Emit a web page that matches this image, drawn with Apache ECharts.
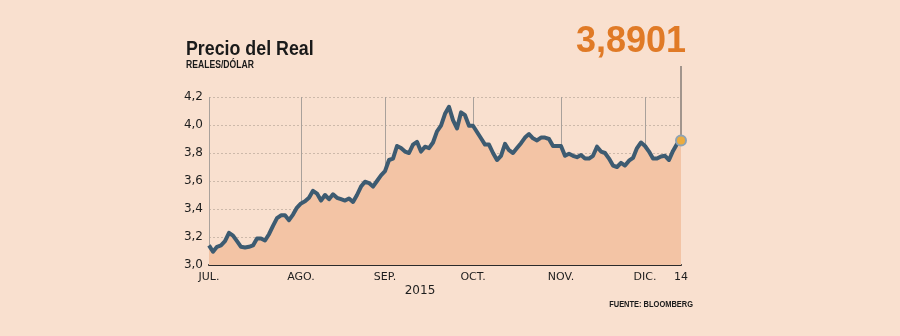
<!DOCTYPE html>
<html>
<head>
<meta charset="utf-8">
<script src="https://cdn.jsdelivr.net/npm/echarts@6/dist/echarts.min.js"></script>
<style>
html,body{margin:0;padding:0;background:#f9e0cf;}
#c{width:900px;height:336px;}
</style>
</head>
<body>
<div id="c"></div>
<script>
// Tasa BRL por USD, días hábiles 1 jul - 14 dic 2015
const values = [
  3.14,3.095,3.13,3.14,3.17,3.23,3.21,3.17,3.13,3.125,3.13,3.14,3.19,3.19,3.175,3.22,3.28,3.335,3.355,3.355,
  3.32,3.36,3.41,3.44,3.455,3.48,3.53,3.51,3.46,3.50,3.47,3.505,3.48,3.47,3.46,3.475,3.45,3.50,3.56,3.595,
  3.585,3.56,3.60,3.64,3.67,3.75,3.76,3.85,3.835,3.81,3.80,3.86,3.88,3.81,3.845,3.835,3.875,3.955,3.995,4.08,
  4.13,4.035,3.975,4.09,4.07,3.995,3.995,3.95,3.905,3.86,3.86,3.80,3.75,3.78,3.865,3.82,3.80,3.835,3.87,3.91,
  3.935,3.905,3.89,3.91,3.91,3.90,3.85,3.85,3.85,3.78,3.795,3.78,3.77,3.785,3.76,3.76,3.78,3.845,3.81,3.80,
  3.76,3.71,3.70,3.73,3.71,3.745,3.765,3.835,3.875,3.85,3.81,3.76,3.76,3.775,3.78,3.75,3.815,3.865,3.8901
];
const tickLabels = ['JUL.','AGO.','SEP.','OCT.','NOV.','DIC.','14'];
const tickIndex = [0,23,44,66,88,109,118];
const yTicks = [3.0,3.2,3.4,3.6,3.8,4.0,4.2];
const lastValueText = '3,8901';
const titleText = 'Precio del Real';
const subtitleText = 'REALES/DÓLAR';
const yearText = '2015';
const sourceText = 'FUENTE: BLOOMBERG';

// trading days (weekdays) from 2015-07-01 to 2015-12-14
const categories = [];
(function(){
  const d = new Date(Date.UTC(2015,6,1));
  const end = new Date(Date.UTC(2015,11,14));
  while (d <= end) {
    const wd = d.getUTCDay();
    if (wd !== 0 && wd !== 6) categories.push(d.toISOString().slice(0,10));
    d.setUTCDate(d.getUTCDate()+1);
  }
})();
const labelAt = {};
tickIndex.forEach((ix,k)=>{labelAt[ix]=tickLabels[k];});

const chart = echarts.init(document.getElementById('c'), null, {renderer:'canvas'});
const option = {
  backgroundColor:'#f9e0cf',
  animation:false,
  grid:{left:209,right:219,top:97,bottom:71,containLabel:false},
  xAxis:{
    type:'category',
    data:categories,
    boundaryGap:false,
    axisLine:{show:true,lineStyle:{color:'#2b2b2b',width:2}},
    axisTick:{show:false},
    axisLabel:{
      interval:(i)=>labelAt[i]!==undefined,
      formatter:(v,i)=>labelAt[i]||'',
      color:'#1e1e1e',fontFamily:'DejaVu Sans',fontSize:11,margin:7
    },
    splitLine:{show:true,interval:(i)=>labelAt[i]!==undefined && i!==118,lineStyle:{color:'#a9a19b',width:1}}
  },
  yAxis:{
    type:'value',min:3.0,max:4.2,interval:0.2,
    axisLine:{show:false},axisTick:{show:false},
    axisLabel:{formatter:(v)=>v.toFixed(1).replace('.',','),color:'#1e1e1e',fontFamily:'DejaVu Sans',fontSize:12,margin:6},
    splitLine:{show:true,lineStyle:{color:'#cdb9aa',type:[2,2],width:1}}
  },
  series:[{
    type:'line',
    data:values,
    showSymbol:false,
    symbol:'none',
    lineStyle:{color:'#3d5b71',width:4,join:'round'},
    areaStyle:{color:'#f3c4a5',opacity:1},
    z:3,
    markPoint:{
      symbol:'circle',symbolSize:10,
      itemStyle:{color:'#ecac3f',borderColor:'#8fa3b3',borderWidth:2},
      label:{show:false},
      data:[{coord:[categories[values.length-1],values[values.length-1]]}]
    }
  }]
};
chart.setOption(option);

const p = chart.convertToPixel({seriesIndex:0},[categories.length-1, values[values.length-1]]);
chart.setOption({
  graphic:[
    {type:'text',x:186,y:49,scaleX:0.89,style:{x:0,y:0,text:titleText,fill:'#1a1a1a',verticalAlign:'middle',font:'bold 20px "Liberation Sans",Arial,sans-serif'}},
    {type:'text',x:186,y:65,scaleX:0.86,style:{x:0,y:0,text:subtitleText,fill:'#1a1a1a',verticalAlign:'middle',font:'bold 10px "Liberation Sans",Arial,sans-serif'}},
    {type:'line',z:1,shape:{x1:p[0],y1:66,x2:p[0],y2:p[1]},style:{stroke:'#4a4a4a',lineWidth:1}},
    {type:'text',z:5,style:{x:p[0]+5,y:60,text:lastValueText,fill:'#e07a26',align:'right',verticalAlign:'bottom',font:'bold 36px "Liberation Sans",Arial,sans-serif'}},
    {type:'text',style:{x:420,y:291,text:yearText,fill:'#1e1e1e',align:'center',verticalAlign:'middle',font:'12px "DejaVu Sans",sans-serif'}},
    {type:'text',x:693,y:305,scaleX:0.83,style:{x:0,y:0,text:sourceText,fill:'#1a1a1a',align:'right',verticalAlign:'middle',font:'bold 9px "Liberation Sans",Arial,sans-serif'}}
  ]
});
</script>
</body>
</html>
